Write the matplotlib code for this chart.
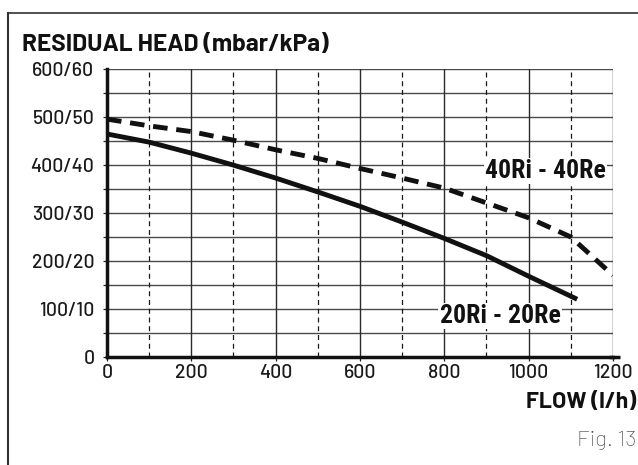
import matplotlib.pyplot as plt
from matplotlib.lines import Line2D
from matplotlib.ticker import FixedLocator, MultipleLocator

# curve data (flow in l/h, head in mbar)
flow_40 = [0, 100, 200, 300, 400, 500, 600, 700, 800, 900, 1000, 1100, 1150, 1200]
head_40 = [496, 482, 470, 452, 432, 414, 393, 373, 352, 321, 290, 250, 210, 170]
flow_20 = [0, 100, 200, 300, 400, 500, 600, 700, 800, 900, 1000, 1115]
head_20 = [465, 448, 425, 400, 373, 344, 314, 281, 247, 211, 168, 120]

y_ticks = [0, 100, 200, 300, 400, 500, 600]
y_labels = ["0", "100/10", "200/20", "300/30", "400/40", "500/50", "600/60"]
x_ticks = [0, 200, 400, 600, 800, 1000, 1200]

main_font = ["Barlow", "DejaVu Sans"]
label_font = ["Roboto Condensed", "DejaVu Sans"]
plt.rcParams["font.family"] = main_font

fig = plt.figure(figsize=(6.38, 4.65), dpi=100)
ax = fig.add_axes([0.1677, 0.2329, 0.7931, 0.6180])
ax.set_xlim(0, 1200)
ax.set_ylim(0, 600)

# grid: horizontal every 50, solid verticals every 200, dashed in between
for y in range(50, 601, 50):
    ax.axhline(y, color="#4a4a4a", lw=1.0, zorder=1)
for x in range(200, 1201, 200):
    ax.axvline(x, color="#2a2a2a", lw=1.0, zorder=1)
for x in range(100, 1200, 200):
    ax.axvline(x, color="#1a1a1a", lw=0.9, ls=(0, (4, 3)), zorder=1)

ax.plot(flow_40, head_40, color="#111111", lw=3.5, ls=(0, (3.0, 1.8)),
        dash_capstyle="butt", zorder=3)
ax.plot(flow_20, head_20, color="#111111", lw=3.5, solid_capstyle="butt",
        zorder=3)

ax.text(1040, 388, "40Ri - 40Re", family=label_font, weight="bold",
        fontsize=18.5, ha="center", va="center", color="#111111", zorder=4,
        bbox=dict(facecolor="white", edgecolor="none", pad=1.0))
ax.text(932, 85, "20Ri - 20Re", family=label_font, weight="bold",
        fontsize=18.5, ha="center", va="center", color="#111111", zorder=4,
        bbox=dict(facecolor="white", edgecolor="none", pad=1.0))

# axes
for side in ["top", "right"]:
    ax.spines[side].set_visible(False)
ax.spines["left"].set_linewidth(2.5)
ax.spines["bottom"].set_linewidth(2.5)
ax.spines["left"].set_color("#111111")
ax.spines["bottom"].set_color("#111111")
ax.plot([1190, 1216], [0, 0], color="#111111", lw=2.5, clip_on=False,
        solid_capstyle="butt")

ax.yaxis.set_major_locator(FixedLocator(y_ticks))
ax.yaxis.set_minor_locator(MultipleLocator(50))
ax.xaxis.set_major_locator(FixedLocator(x_ticks))
ax.set_yticklabels(y_labels, fontsize=14, fontweight=500)
ax.set_xticklabels([str(v) for v in x_ticks], fontsize=14, fontweight=500)
ax.tick_params(axis="both", which="both", direction="out", length=3,
               width=0.9, color="#222222", labelcolor="#1a1a1a")
ax.tick_params(axis="y", pad=6)
ax.tick_params(axis="x", pad=2)

fig.text(22 / 638, 1 - 45 / 465, "RESIDUAL HEAD (mbar/kPa)", weight="bold",
         fontsize=17.5, ha="left", va="center", color="#111111")
fig.text(636 / 638, 1 - 402 / 465, "FLOW (l/h)", weight="bold",
         fontsize=16.5, ha="right", va="center", color="#111111")
fig.text(636 / 638, 1 - 440 / 465, "Fig. 13", fontsize=16, ha="right",
         va="center", color="#444444", weight="light")

# outer frame (top and left edges only)
fig.add_artist(Line2D([8 / 638, 1.0], [1 - 13 / 465, 1 - 13 / 465],
                      color="#333333", lw=1.2))
fig.add_artist(Line2D([8 / 638, 8 / 638], [0.0, 1 - 13 / 465],
                      color="#333333", lw=1.5))

fig.savefig("out.png", dpi=100)
